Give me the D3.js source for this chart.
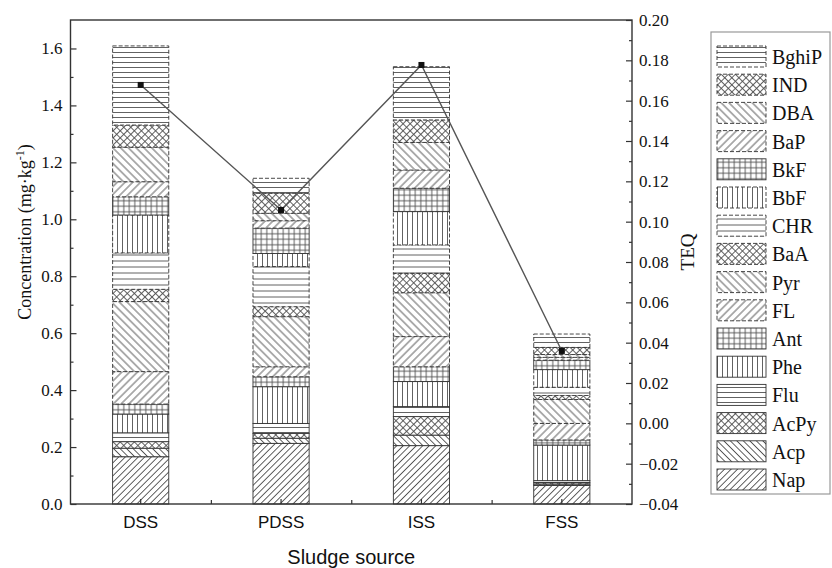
<!DOCTYPE html>
<html><head><meta charset="utf-8">
<script src="https://cdn.jsdelivr.net/npm/d3@7"></script>
<style>body{margin:0;background:#fff} svg{display:block}</style>
</head><body>
<svg id="c" width="832" height="568"></svg>
<script>
// ---------- data ----------
const categories = ["DSS", "PDSS", "ISS", "FSS"];
const compounds = ["Nap","Acp","AcPy","Flu","Phe","Ant","FL","Pyr","BaA","CHR","BbF","BkF","BaP","DBA","IND","BghiP"];
// concentrations (mg/kg), one value per sludge source in category order
const Nap   = [0.166, 0.213, 0.205, 0.065];
const Acp   = [0.030, 0.018, 0.037, 0.005];
const AcPy  = [0.023, 0.017, 0.065, 0.005];
const Flu   = [0.031, 0.035, 0.035, 0.007];
const Phe   = [0.066, 0.129, 0.088, 0.125];
const Ant   = [0.035, 0.035, 0.052, 0.018];
const FL    = [0.114, 0.035, 0.106, 0.058];
const Pyr   = [0.246, 0.176, 0.154, 0.084];
const BaA   = [0.043, 0.035, 0.068, 0.014];
const CHR   = [0.128, 0.141, 0.100, 0.029];
const BbF   = [0.133, 0.046, 0.117, 0.062];
const BkF   = [0.064, 0.089, 0.082, 0.033];
const BaP   = [0.053, 0.026, 0.064, 0.010];
const DBA   = [0.121, 0.026, 0.097, 0.010];
const IND   = [0.078, 0.070, 0.079, 0.025];
const BghiP = [0.278, 0.053, 0.187, 0.047];
const TEQ   = [0.1678, 0.1058, 0.1777, 0.0359];
const leftTicks  = [0, 0.2, 0.4, 0.6, 0.8, 1.0, 1.2, 1.4, 1.6];
const rightTicks = [-0.04, -0.02, 0, 0.02, 0.04, 0.06, 0.08, 0.10, 0.12, 0.14, 0.16, 0.18, 0.20];

const seriesValues = {Nap, Acp, AcPy, Flu, Phe, Ant, FL, Pyr, BaA, CHR, BbF, BkF, BaP, DBA, IND, BghiP};

// ---------- styles ----------
const patternStyle = {
  Nap:{type:"fwd", s:4.6, dash:false},
  Acp:{type:"back", s:4.6, dash:false},
  AcPy:{type:"cross", s:5, dash:false},
  Flu:{type:"h", s:5, dash:false},
  Phe:{type:"v", s:5, dash:false},
  Ant:{type:"grid", s:5.5, dash:false},
  FL:{type:"fwd", s:5.5, dash:true},
  Pyr:{type:"back", s:5.5, dash:true},
  BaA:{type:"cross", s:5, dash:true},
  CHR:{type:"h", s:6, dash:true},
  BbF:{type:"v", s:5, dash:true},
  BkF:{type:"grid", s:5.5, dash:false},
  BaP:{type:"fwd", s:5.5, dash:true},
  DBA:{type:"back", s:5.5, dash:true},
  IND:{type:"cross", s:5, dash:true},
  BghiP:{type:"h", s:5, dash:true}
};
const hatchColor = "#505050", borderColor = "#333";
const serif = "'Liberation Serif','Times New Roman',serif";
const sans = "'Liberation Sans',Arial,sans-serif";

const svg = d3.select("#c");
const defs = svg.append("defs");
const plot = {l:70.5, r:632, t:20, b:504};

function makePattern(key){
  const st = patternStyle[key], s = st.s;
  const p = defs.append("pattern").attr("id","p-"+key)
    .attr("patternUnits","userSpaceOnUse").attr("width",s).attr("height",s);
  p.append("rect").attr("width",s).attr("height",s).attr("fill","#fff");
  const ln = (x1,y1,x2,y2)=>p.append("line").attr("x1",x1).attr("y1",y1).attr("x2",x2).attr("y2",y2)
      .attr("stroke",hatchColor).attr("stroke-width",0.9);
  if (st.type==="fwd"){ p.attr("patternTransform","rotate(45)"); ln(s/2,0,s/2,s); }
  else if (st.type==="back"){ p.attr("patternTransform","rotate(-45)"); ln(s/2,0,s/2,s); }
  else if (st.type==="cross"){ p.attr("patternTransform","rotate(45)"); ln(s/2,0,s/2,s); ln(0,s/2,s,s/2); }
  else if (st.type==="h"){ ln(0,s/2,s,s/2); }
  else if (st.type==="v"){ ln(s/2,0,s/2,s); }
  else if (st.type==="grid"){ ln(s/2,0,s/2,s); ln(0,s/2,s,s/2); }
}
compounds.forEach(makePattern);

// ---------- scales ----------
const x = d3.scaleBand().domain(categories).range([plot.l, plot.r]).paddingInner(0.6).paddingOuter(0.3);
const xEdge = d3.scaleLinear().domain([0, categories.length]).range([plot.l, plot.r]);
const yL = d3.scaleLinear().domain([0, 1.7]).range([plot.b, plot.t]);
const yR = d3.scaleLinear().domain([-0.04, 0.20]).range([plot.b, plot.t]);

// ---------- bars ----------
const rows = categories.map((c,i)=>{ const r={cat:c}; compounds.forEach(k=>r[k]=seriesValues[k][i]); return r; });
const stacked = d3.stack().keys(compounds)(rows);
const gBars = svg.append("g");
stacked.forEach(ser=>{
  const st = patternStyle[ser.key];
  gBars.selectAll(null).data(ser).join("rect")
    .attr("x", d=>x(d.data.cat)).attr("width", x.bandwidth())
    .attr("y", d=>yL(d[1])).attr("height", d=>yL(d[0])-yL(d[1]))
    .attr("fill", "url(#p-"+ser.key+")")
    .attr("stroke", borderColor).attr("stroke-width", 0.9)
    .attr("stroke-dasharray", st.dash ? "4,2" : null);
});

// ---------- axes ----------
function styleAxis(g, font, size){
  g.select(".domain").remove();
  g.selectAll("line").attr("stroke","#333").attr("stroke-width",1.2);
  g.selectAll("text").attr("font-family",font).attr("font-size",size).attr("fill","#111");
}
const minorL = d3.range(0.1, 1.7, 0.2);
svg.append("g").attr("transform",`translate(${plot.l},0)`)
  .call(d3.axisLeft(yL).tickValues(leftTicks).tickFormat(d3.format(".1f")).tickSize(-6).tickPadding(8))
  .call(g=>styleAxis(g, serif, 17));
svg.append("g").attr("transform",`translate(${plot.l},0)`)
  .call(d3.axisLeft(yL).tickValues(minorL).tickFormat("").tickSize(-3))
  .call(g=>styleAxis(g, serif, 17));

const minorR = d3.range(-0.03, 0.20, 0.02);
svg.append("g").attr("transform",`translate(${plot.r},0)`)
  .call(d3.axisRight(yR).tickValues(rightTicks).tickFormat(d3.format(".2f")).tickSize(-6).tickPadding(7))
  .call(g=>styleAxis(g, serif, 17));
svg.append("g").attr("transform",`translate(${plot.r},0)`)
  .call(d3.axisRight(yR).tickValues(minorR).tickFormat("").tickSize(-3))
  .call(g=>styleAxis(g, serif, 17));

svg.append("g").attr("transform",`translate(0,${plot.b})`)
  .call(d3.axisBottom(x).tickSize(-5).tickPadding(12))
  .call(g=>styleAxis(g, sans, 17));
svg.append("g").attr("transform",`translate(0,${plot.b})`)
  .call(d3.axisBottom(xEdge).tickValues([1,2,3]).tickFormat("").tickSize(-4))
  .call(g=>styleAxis(g, sans, 17));

// frame
svg.append("rect").attr("x",plot.l).attr("y",plot.t).attr("width",plot.r-plot.l).attr("height",plot.b-plot.t)
  .attr("fill","none").attr("stroke","#333").attr("stroke-width",1.4);

// ---------- TEQ line ----------
const cx = c => x(c) + x.bandwidth()/2;
const line = d3.line().x((d,i)=>cx(categories[i])).y(d=>yR(d));
svg.append("path").attr("d", line(TEQ)).attr("fill","none").attr("stroke","#555").attr("stroke-width",1.4);
svg.selectAll(null).data(TEQ).join("rect")
  .attr("x",(d,i)=>cx(categories[i])-3).attr("y",d=>yR(d)-3).attr("width",6).attr("height",6).attr("fill","#111");

// ---------- titles ----------
svg.append("text").attr("x",(plot.l+plot.r)/2).attr("y",564).attr("text-anchor","middle")
  .attr("font-family",sans).attr("font-size",20).attr("fill","#111").text("Sludge source");
const yt = svg.append("text").attr("transform","translate(31,232) rotate(-90)").attr("text-anchor","middle")
  .attr("font-family",serif).attr("font-size",18).attr("fill","#111");
yt.append("tspan").text("Concentration (mg·kg");
yt.append("tspan").attr("font-size",12).attr("dy",-7).text("-1");
yt.append("tspan").attr("dy",7).text(")");
svg.append("text").attr("transform","translate(694,252) rotate(-90)").attr("text-anchor","middle")
  .attr("font-family",serif).attr("font-size",19).attr("fill","#111").text("TEQ");

// ---------- legend ----------
const lg = svg.append("g");
lg.append("rect").attr("x",711).attr("y",32).attr("width",119).attr("height",462)
  .attr("fill","#fff").attr("stroke","#999").attr("stroke-width",1.2);
const legendOrder = compounds.slice().reverse();
const lgY = d3.scalePoint().domain(legendOrder).range([46, 469]);
legendOrder.forEach(k=>{
  const st = patternStyle[k];
  lg.append("rect").attr("x",717).attr("y",lgY(k)).attr("width",49).attr("height",21)
    .attr("fill","url(#p-"+k+")").attr("stroke",borderColor).attr("stroke-width",0.9)
    .attr("stroke-dasharray", st.dash ? "4,2" : null);
  lg.append("text").attr("x",772).attr("y",lgY(k)+18).attr("font-family",serif).attr("font-size",20)
    .attr("fill","#111").text(k);
});
</script>
</body></html>
